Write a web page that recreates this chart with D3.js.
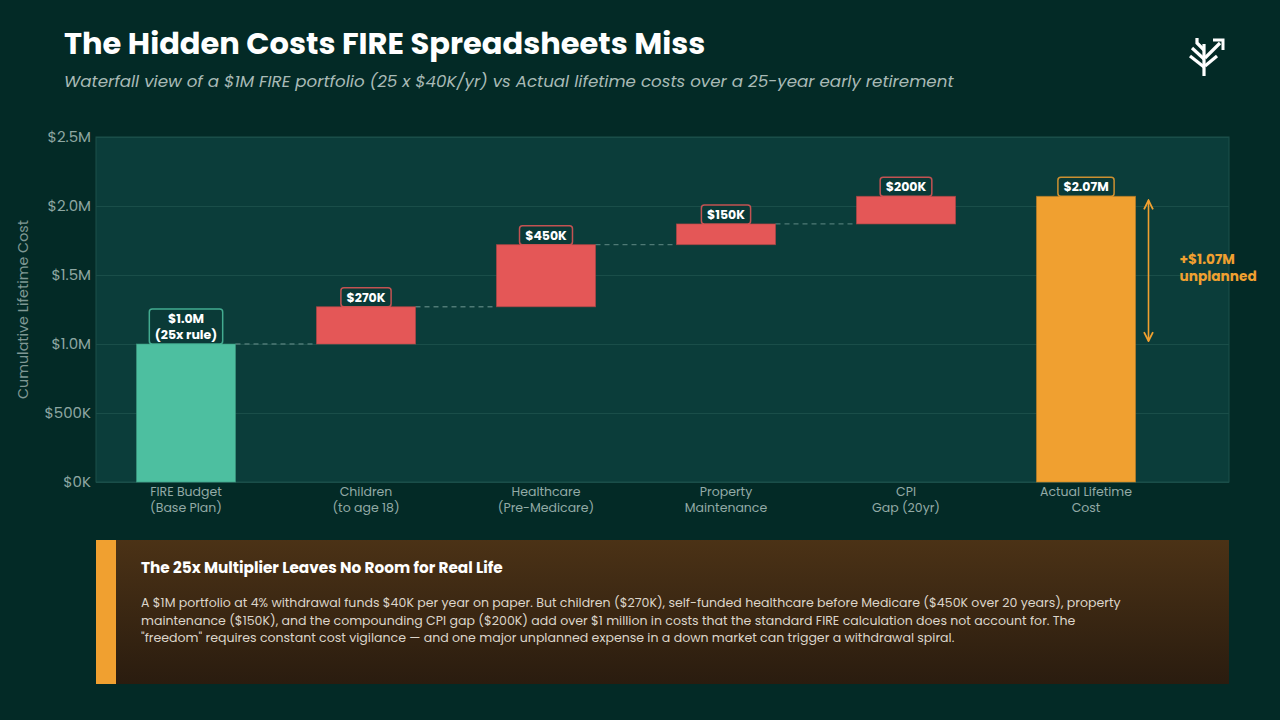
<!DOCTYPE html>
<html>
<head>
<meta charset="utf-8">
<script src="https://cdn.jsdelivr.net/npm/d3@7"></script>
<style>
  html, body { margin: 0; padding: 0; background: #032a26; }
  svg { display: block; font-family: Poppins, Inter, "Noto Sans", sans-serif; }
</style>
</head>
<body>
<div id="chart"></div>
<script>
const categories = [
  ["FIRE Budget", "(Base Plan)"],
  ["Children", "(to age 18)"],
  ["Healthcare", "(Pre-Medicare)"],
  ["Property", "Maintenance"],
  ["CPI", "Gap (20yr)"],
  ["Actual Lifetime", "Cost"]
];
const amounts = [1000000, 270000, 450000, 150000, 200000, 2070000];
const kinds = ["base", "add", "add", "add", "add", "total"];
const valueLabels = [["$1.0M", "(25x rule)"], ["$270K"], ["$450K"], ["$150K"], ["$200K"], ["$2.07M"]];
const yTicks = [0, 500000, 1000000, 1500000, 2000000, 2500000];
const yTickLabels = ["$0K", "$500K", "$1.0M", "$1.5M", "$2.0M", "$2.5M"];
const gapLabel = ["+$1.07M", "unplanned"];
const bodyLines = [
  "A $1M portfolio at 4% withdrawal funds $40K per year on paper. But children ($270K), self-funded healthcare before Medicare ($450K over 20 years), property",
  "maintenance ($150K), and the compounding CPI gap ($200K) add over $1 million in costs that the standard FIRE calculation does not account for. The",
  "\"freedom\" requires constant cost vigilance \u2014 and one major unplanned expense in a down market can trigger a withdrawal spiral."
];

const width = 1280, height = 720;
const colors = { base: "#4dbfa0", add: "#e45757", total: "#f0a030" };

const svg = d3.select("#chart").append("svg")
  .attr("width", width)
  .attr("height", height)
  .attr("viewBox", [0, 0, width, height]);

const defs = svg.append("defs");
const grad = defs.append("linearGradient").attr("id", "boxGrad")
  .attr("x1", 0).attr("y1", 0).attr("x2", 0).attr("y2", 1);
grad.append("stop").attr("offset", "0%").attr("stop-color", "#4b3216");
grad.append("stop").attr("offset", "100%").attr("stop-color", "#2a1c0f");

defs.append("marker")
  .attr("id", "arrow-total")
  .attr("viewBox", "0 -5 10 10")
  .attr("refX", 9)
  .attr("refY", 0)
  .attr("orient", "auto-start-reverse")
  .attr("markerWidth", 7)
  .attr("markerHeight", 7)
  .append("path")
  .attr("d", "M1,-4L9,0L1,4")
  .attr("fill", "none")
  .attr("stroke", colors.total)
  .attr("stroke-width", 1.6);

svg.append("rect").attr("width", width).attr("height", height).attr("fill", "#032a26");

// title
svg.append("text").attr("x", 64).attr("y", 54)
  .attr("fill", "#ffffff").attr("font-size", 30.5).attr("font-weight", 700)
  .text("The Hidden Costs FIRE Spreadsheets Miss");
svg.append("text").attr("x", 64).attr("y", 87)
  .attr("fill", "#a9bab6").attr("font-size", 16.7).attr("font-style", "italic")
  .text("Waterfall view of a $1M FIRE portfolio (25 x $40K/yr) vs Actual lifetime costs over a 25-year early retirement");

// logo
const logo = svg.append("g").attr("stroke", "#ffffff").attr("stroke-width", 3.2)
  .attr("fill", "none").attr("stroke-linecap", "butt");
logo.append("path").attr("d", "M1204,76L1204,44");
logo.append("path").attr("d", "M1204,50L1197,43L1197,38");
logo.append("path").attr("d", "M1204,59L1192,48");
logo.append("path").attr("d", "M1204,67L1190,56");
logo.append("path").attr("d", "M1205,58L1220,43");
logo.append("path").attr("d", "M1205,66L1217,56");
logo.append("path").attr("d", "M1213,40L1223,40L1223,50").attr("stroke-width", 3);

// plot
const plot = { left: 96, right: 1229, top: 137, bottom: 482 };

const x = d3.scaleBand()
  .domain(d3.range(categories.length))
  .range([plot.left, 1176])
  .paddingInner(0.45)
  .paddingOuter(0.225);

const y = d3.scaleLinear()
  .domain([0, 2500000])
  .range([plot.bottom, plot.top]);

svg.append("rect")
  .attr("x", plot.left).attr("y", plot.top)
  .attr("width", plot.right - plot.left).attr("height", plot.bottom - plot.top)
  .attr("fill", "#0b3d3a").attr("stroke", "#1c504b").attr("stroke-width", 1);

const yAxis = svg.append("g")
  .attr("transform", `translate(${plot.left},0)`)
  .call(d3.axisLeft(y).tickValues(yTicks).tickFormat((d, i) => yTickLabels[i])
    .tickSize(-(plot.right - plot.left)).tickPadding(5));
yAxis.select(".domain").remove();
yAxis.selectAll(".tick line").attr("stroke", "#1a4e49").attr("stroke-width", 1);
yAxis.selectAll(".tick text").attr("fill", "#8ea7a2").attr("font-size", 15)
  .attr("font-family", "Poppins, Inter, 'Noto Sans', sans-serif");

svg.append("text")
  .attr("transform", `translate(28,${(plot.top + plot.bottom) / 2}) rotate(-90)`)
  .attr("text-anchor", "middle")
  .attr("fill", "#7f9894").attr("font-size", 14.3)
  .text("Cumulative Lifetime Cost");

// waterfall steps
let running = 0;
const steps = amounts.map((v, i) => {
  let start, end;
  if (kinds[i] === "base") { start = 0; end = v; running = v; }
  else if (kinds[i] === "add") { start = running; end = running + v; running = end; }
  else { start = 0; end = v; }
  return { i, start, end, kind: kinds[i], labels: valueLabels[i] };
});

// connectors
svg.append("g").selectAll("line")
  .data(steps.slice(0, -2))
  .join("line")
  .attr("x1", d => x(d.i) + x.bandwidth())
  .attr("x2", d => x(d.i + 1))
  .attr("y1", d => y(d.end))
  .attr("y2", d => y(d.end))
  .attr("stroke", "#4f7a75")
  .attr("stroke-width", 1.3)
  .attr("stroke-dasharray", "5,4");

// bars
svg.append("g").selectAll("rect")
  .data(steps)
  .join("rect")
  .attr("x", d => x(d.i))
  .attr("width", x.bandwidth())
  .attr("y", d => y(d.end))
  .attr("height", d => y(d.start) - y(d.end))
  .attr("fill", d => colors[d.kind])
  .attr("stroke", d => d3.color(colors[d.kind]).darker(0.6))
  .attr("stroke-opacity", 0.6)
  .attr("stroke-width", 1);

// value labels
const lab = svg.append("g").selectAll("g")
  .data(steps)
  .join("g")
  .attr("transform", d => `translate(${x(d.i) + x.bandwidth() / 2},${y(d.end)})`);

lab.each(function (d) {
  const g = d3.select(this);
  const lineH = 16;
  const rect = g.append("rect");
  const t = g.append("text")
    .attr("text-anchor", "middle")
    .attr("fill", "#ffffff")
    .attr("font-size", 12.5)
    .attr("font-weight", 700);
  const n = d.labels.length;
  d.labels.forEach((s, k) => {
    t.append("tspan").attr("x", 0)
      .attr("y", -5 - (n - 1 - k) * lineH)
      .text(s);
  });
  const w = t.node().getBBox().width + 11;
  const h = n * lineH + 3;
  rect.attr("x", -w / 2).attr("y", -h).attr("width", w).attr("height", h)
    .attr("rx", 3)
    .attr("fill", "#0a3a37")
    .attr("stroke", colors[d.kind])
    .attr("stroke-opacity", 0.85)
    .attr("stroke-width", 1.5);
});

// x labels
const xl = svg.append("g").selectAll("text")
  .data(categories)
  .join("text")
  .attr("text-anchor", "middle")
  .attr("fill", "#93aba6")
  .attr("font-size", 12.5);
xl.each(function (d, i) {
  d.forEach((s, k) => {
    d3.select(this).append("tspan")
      .attr("x", x(i) + x.bandwidth() / 2)
      .attr("y", 496 + k * 16)
      .text(s);
  });
});

// gap annotation
const base = steps[0], total = steps[steps.length - 1];
const ax = x(total.i) + x.bandwidth() + 13;
svg.append("line")
  .attr("x1", ax).attr("x2", ax)
  .attr("y1", y(base.end) - 3).attr("y2", y(total.end) + 4)
  .attr("stroke", colors.total).attr("stroke-width", 1.6)
  .attr("marker-start", "url(#arrow-total)")
  .attr("marker-end", "url(#arrow-total)");
svg.append("g")
  .attr("fill", colors.total).attr("font-size", 13.7).attr("font-weight", 700)
  .selectAll("text").data(gapLabel).join("text")
  .attr("x", ax + 31)
  .attr("y", (d, k) => y((base.end + total.end) / 2) + k * 17 - 6)
  .text(d => d);

// insight box
const box = { x: 96, y: 540, w: 1133, h: 144 };
svg.append("rect").attr("x", box.x).attr("y", box.y).attr("width", box.w).attr("height", box.h)
  .attr("fill", "url(#boxGrad)");
svg.append("rect").attr("x", box.x).attr("y", box.y).attr("width", 20).attr("height", box.h)
  .attr("fill", colors.total);
svg.append("text").attr("x", 141).attr("y", 573)
  .attr("fill", "#ffffff").attr("font-size", 15.3).attr("font-weight", 700)
  .text("The 25x Multiplier Leaves No Room for Real Life");
svg.append("text").attr("fill", "#dcd5ca").attr("font-size", 12.55)
  .selectAll("tspan").data(bodyLines).join("tspan")
  .attr("x", 141)
  .attr("y", (d, k) => 607 + k * 17.5)
  .text(d => d);
</script>
</body>
</html>
